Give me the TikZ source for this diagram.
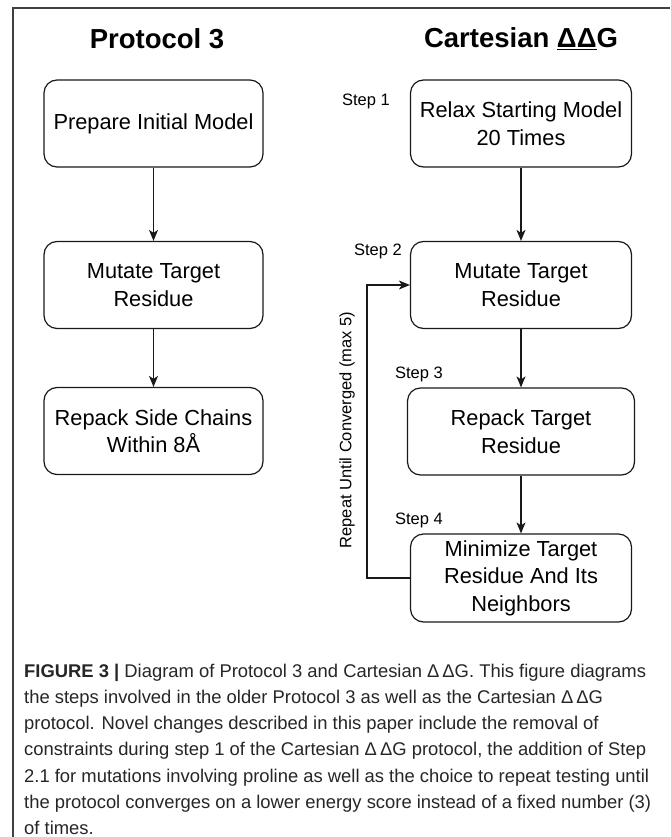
\documentclass[tikz,border=0pt]{standalone}
\usepackage{fontspec}
\setmainfont{Liberation Sans}
\usetikzlibrary{arrows.meta}
\begin{document}
\begin{tikzpicture}[x=1pt,y=-1pt,
  box/.style={draw=black!90,line width=1.2pt,rounded corners=13pt,minimum height=87pt,
    align=center,font=\fontsize{21.8}{27.5}\selectfont,inner sep=0pt},
  arr/.style={draw=black!90,line width=1.2pt,-{Stealth[length=11pt,width=9pt,inset=3pt]}},
  steplab/.style={font=\fontsize{16.5}{20}\selectfont,inner sep=0pt},
  ttl/.style={font=\fontsize{27.5}{32}\selectfont\bfseries,inner sep=0pt},
  capline/.style={anchor=base west,inner sep=0pt,text=black!85,font=\fontsize{18.4}{22}\selectfont}]
\useasboundingbox (0,0) rectangle (670,837);
\fill[white] (0,0) rectangle (670,837);
% frame
\draw[black!75,line width=1.4pt] (13,837) -- (13,8) -- (670,8);
% titles
\node[ttl] (t1) at (157,39) {Protocol 3};
\node[ttl] (t2) at (521,39) {Cartesian \underline{ΔΔ}G};
% left column
\node[box,minimum width=219pt] (l1) at (153.5,123.5) {Prepare Initial Model};
\node[box,minimum width=219pt] (l2) at (153.5,285) {Mutate Target\\Residue};
\node[box,minimum width=219pt] (l3) at (153.5,431) {Repack Side Chains\\Within 8Å};
\draw[arr] (l1) -- (l2);
\draw[arr] (l2) -- (l3);
% right column
\node[box,minimum width=221pt] (r1) at (521,123.5) {Relax Starting Model\\20 Times};
\node[box,minimum width=221pt] (r2) at (521,285) {Mutate Target\\Residue};
\node[box,minimum width=227pt] (r3) at (521,431.5) {Repack Target\\Residue};
\node[box,minimum width=221pt,minimum height=88pt] (r4) at (521,578) {Minimize Target\\Residue And Its\\Neighbors};
\draw[arr] (r1) -- (r2);
\draw[arr] (r2) -- (r3);
\draw[arr] (r3) -- (r4);
\coordinate (lp) at (367,578);
\draw[arr] (r4.west) -- (lp) |- (r2.west);
\node[steplab,rotate=90] (rep) at (347,430) {Repeat Until Converged (max 5)};
% step labels
\node[steplab] (s1) at (366,101) {Step 1};
\node[steplab] (s2) at (378,251) {Step 2};
\node[steplab] (s3) at (419,374) {Step 3};
\node[steplab] (s4) at (419,520) {Step 4};
% caption
\node[capline] (c1) at (24,677) {\textbf{FIGURE 3 |} Diagram of Protocol 3 and Cartesian Δ\,ΔG. This figure diagrams};
\node[capline] (c2) at (24,703.3) {the steps involved in the older Protocol 3 as well as the Cartesian Δ\,ΔG};
\node[capline] (c3) at (24,729.6) {protocol. Novel changes described in this paper include the removal of};
\node[capline] (c4) at (24,755.9) {constraints during step 1 of the Cartesian Δ\,ΔG protocol, the addition of Step};
\node[capline] (c5) at (24,782.2) {2.1 for mutations involving proline as well as the choice to repeat testing until};
\node[capline] (c6) at (24,808.5) {the protocol converges on a lower energy score instead of a fixed number (3)};
\node[capline] (c7) at (24,834.8) {of times.};
\end{tikzpicture}
\end{document}
